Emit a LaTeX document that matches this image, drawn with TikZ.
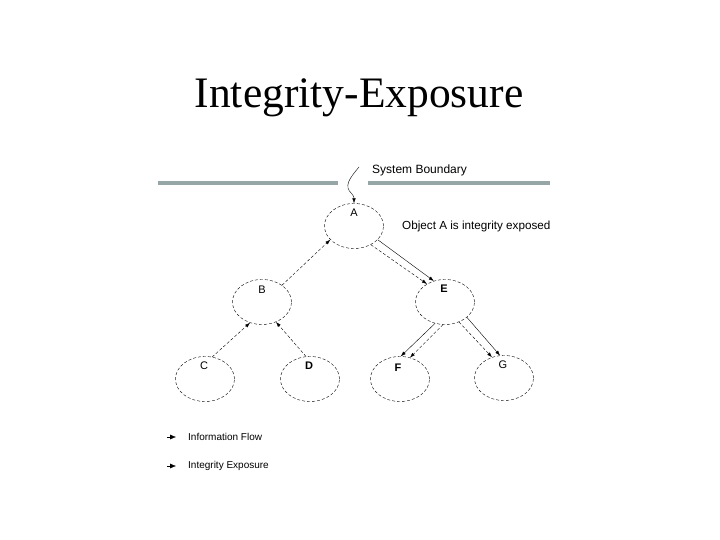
\documentclass[tikz,border=0pt]{standalone}
\usepackage{fontspec}
\setmainfont{Liberation Serif}
\newfontfamily\lsans{Liberation Sans}
\usetikzlibrary{arrows.meta,shapes.geometric}
\begin{document}
\begin{tikzpicture}[x=1pt,y=-1pt,
  obj/.style={ellipse,draw,dash pattern=on 3pt off 2pt,minimum width=59pt,minimum height=45pt,inner sep=0pt},
  lbl/.style={font=\lsans\fontsize{11}{13}\selectfont,inner sep=0pt},
  blbl/.style={font=\lsans\bfseries\fontsize{11}{13}\selectfont,inner sep=0pt},
  flow/.style={dash pattern=on 3pt off 2pt,-{Latex[length=5pt,width=3.5pt]}},
  expo/.style={-{Latex[length=5pt,width=3.5pt]}},
  bound/.style={line width=3.5pt,color=bgray}]
\definecolor{bgray}{RGB}{150,165,165}
\useasboundingbox (0,0) rectangle (720,540);
\fill[white] (0,0) rectangle (720,540);
\node[font=\fontsize{43.5}{48}\selectfont] (title) at (359,98) {Integrity-Exposure};
% boundary
\coordinate (bl1) at (158,183); \coordinate (bl2) at (338,183);
\coordinate (br1) at (368,183); \coordinate (br2) at (550,183);
\draw[bound] (bl1) -- (bl2);
\draw[bound] (br1) -- (br2);
\node[lbl,anchor=west,font=\lsans\fontsize{12}{14}\selectfont] (sb) at (372,170) {System Boundary};
% nodes
\node[obj] (A) at (354,226) {};
\node[obj] (B) at (262,302) {};
\node[obj] (E) at (445,302) {};
\node[obj] (C) at (205,379) {};
\node[obj] (D) at (310,379) {};
\node[obj] (F) at (400,379) {};
\node[obj] (G) at (504,378) {};
\node[lbl] (la) at (354,213) {A};
\node[lbl] (lb) at (262,290) {B};
\node[blbl] (le) at (444,289) {E};
\node[lbl] (lc) at (204,366) {C};
\node[blbl] (ld) at (309,366) {D};
\node[blbl] (lf) at (398,368) {F};
\node[lbl] (lg) at (503,365) {G};
\node[lbl,anchor=west,font=\lsans\fontsize{11.7}{14}\selectfont] (oa) at (402,226) {Object A is integrity exposed};
% squiggly arrow
\coordinate (s0) at (359,167);
\draw[expo] (s0) .. controls (350,178) and (343,186) .. (352,194) .. controls (354,197) .. (A.north);
% connectors
\draw[flow] (B.40) -- (A.-150);
\draw[flow] (C.72) -- (B.-120);
\draw[flow] (D.100) -- (B.-55);
\draw[expo] (A.-30) -- (E.118);
\draw[flow] (A.-48) -- (E.135);
\draw[expo] (E.-115) -- (F.88);
\draw[flow] (E.-95) -- (F.65);
\draw[expo] (E.-35) -- (G.100);
\draw[flow] (E.-55) -- (G.120);
% legend
\coordinate (m1a) at (167,437); \coordinate (m1b) at (176,437);
\coordinate (m2a) at (167,466); \coordinate (m2b) at (176,466);
\draw[-{Latex[length=6pt,width=5pt]}] (m1a) -- (m1b);
\draw[-{Latex[length=6pt,width=5pt]}] (m2a) -- (m2b);
\node[lbl,anchor=west,font=\lsans\fontsize{10}{12}\selectfont] (l1) at (188,437) {Information Flow};
\node[lbl,anchor=west,font=\lsans\fontsize{10}{12}\selectfont] (l2) at (188,466) {Integrity Exposure};
\end{tikzpicture}
\end{document}
